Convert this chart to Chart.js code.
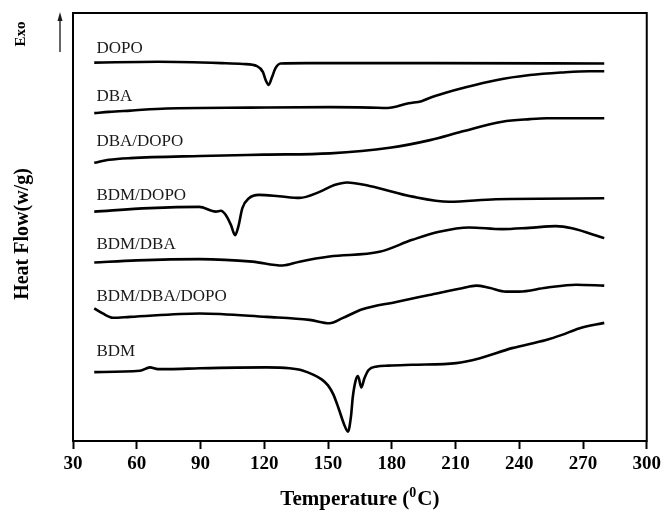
<!DOCTYPE html>
<html>
<head>
<meta charset="utf-8">
<title>DSC curves</title>
<script src="https://cdn.jsdelivr.net/npm/chart.js@4/dist/chart.umd.min.js"></script>
<style>
    body { margin: 0; background: #fff; }
    #wrap { width: 665px; height: 515px; }
</style>
</head>
<body>
<div id="wrap"><canvas id="dscChart" width="665" height="515"></canvas></div>
<script>
// temperatures (C) and heat flow (arbitrary, offset per sample) for each curve
const dopoT = [40, 70, 100, 110, 116.6, 119.4, 120.7, 122.1, 123.5, 125.3, 127.7, 140, 200, 280];
const dopoHF = [88.4, 88.6, 88.3, 88.1, 87.6, 86.2, 84.3, 83.2, 84.8, 87.1, 88.2, 88.3, 88.3, 88.2];

const dbaT = [40, 47, 57, 74, 113, 151, 170, 178, 188, 194, 197.5, 205, 213, 229, 245, 260, 273, 280];
const dbaHF = [76.6, 76.9, 77.2, 77.7, 77.9, 78.0, 77.9, 77.8, 78.9, 79.4, 80.1, 81.3, 82.4, 84.3, 85.5, 86.1, 86.4, 86.4];

const dbaDopoT = [40, 47, 57, 90, 120, 151, 179, 198, 213, 232, 245, 253, 280];
const dbaDopoHF = [65.0, 65.7, 66.1, 66.6, 66.9, 67.2, 68.5, 70.3, 72.3, 74.6, 75.2, 75.4, 75.4];

const bdmDopoT = [40, 66, 89.4, 97.2, 99.6, 101.9, 104.3, 106.3, 107.8, 109.7, 112.8, 117.5, 126.9, 136.6, 146, 153, 159, 169.5, 189.7, 207, 229, 280];
const bdmDopoHF = [53.6, 54.4, 54.7, 53.6, 53.8, 52.8, 50.5, 48.1, 50.1, 54.4, 56.7, 57.5, 57.2, 56.8, 58.2, 59.8, 60.4, 59.6, 57.1, 55.9, 56.5, 56.7];

const bdmDbaT = [40, 60, 89.6, 114.5, 128.6, 136.6, 150.7, 174.2, 189.7, 202.3, 216.4, 231.9, 244.6, 257.3, 264.8, 280];
const bdmDbaHF = [41.7, 42.2, 42.5, 41.9, 41.0, 41.9, 43.1, 44.2, 47.0, 48.9, 49.9, 49.5, 49.8, 50.2, 49.7, 47.4];

const bdmDbaDopoT = [40, 44, 48.8, 56.8, 89.6, 121, 141.3, 150.7, 156.8, 166.2, 182.1, 197.6, 213.1, 219.7, 225.8, 233.8, 239.9, 252.6, 266.7, 280];
const bdmDbaDopoHF = [31.0, 29.8, 28.8, 29.0, 29.8, 29.0, 28.3, 27.5, 28.7, 30.8, 32.5, 34.1, 35.7, 36.3, 35.8, 34.9, 34.9, 35.8, 36.5, 36.3];

const bdmT = [40, 61.5, 66.2, 70, 75.5, 89.6, 121, 131.9, 138, 143, 147, 150, 152.5, 155, 157.5, 159.4, 160.8, 161.7, 163.1, 164.1, 165.7, 167.1, 169.1, 173, 178.5, 189.7, 210.3, 221.1, 236.6, 252.6, 260.1, 268.1, 280];
const bdmHF = [16.1, 16.4, 17.2, 16.8, 16.8, 17.0, 17.2, 17.0, 16.5, 15.5, 14.4, 13.0, 10.9, 7.6, 4.0, 2.2, 5.7, 10.4, 14.3, 15.2, 12.5, 14.6, 16.6, 17.4, 17.6, 17.8, 18.2, 19.3, 21.7, 23.6, 24.8, 26.3, 27.6];

const sampleNames = ['DOPO', 'DBA', 'DBA/DOPO', 'BDM/DOPO', 'BDM/DBA', 'BDM/DBA/DOPO', 'BDM'];
const xTicks = [30, 60, 90, 120, 150, 180, 210, 240, 270, 300];

function toPoints(temps, flows) {
    return temps.map((t, i) => ({ x: t, y: flows[i] }));
}

const curves = [
    [dopoT, dopoHF],
    [dbaT, dbaHF],
    [dbaDopoT, dbaDopoHF],
    [bdmDopoT, bdmDopoHF],
    [bdmDbaT, bdmDbaHF],
    [bdmDbaDopoT, bdmDbaDopoHF],
    [bdmT, bdmHF]
];

// label baselines, in heat-flow units
const labelLevels = [90.7, 79.5, 68.9, 56.4, 44.8, 32.8, 19.9];

const serif = '"Liberation Serif", "Times New Roman", serif';

const decorations = {
    id: 'decorations',
    afterDraw(chart) {
        const { ctx, chartArea: a, scales } = chart;
        ctx.save();

        // box around the plot
        ctx.strokeStyle = '#000';
        ctx.lineWidth = 2;
        ctx.strokeRect(a.left, a.top, a.right - a.left, a.bottom - a.top);

        // sample names above each curve
        ctx.fillStyle = '#1a1a1a';
        ctx.font = '17px ' + serif;
        ctx.textAlign = 'left';
        ctx.textBaseline = 'alphabetic';
        sampleNames.forEach((name, i) => {
            ctx.fillText(name, scales.x.getPixelForValue(41), scales.y.getPixelForValue(labelLevels[i]));
        });

        // Exo arrow
        ctx.lineWidth = 1.2;
        ctx.beginPath();
        ctx.moveTo(60, 52);
        ctx.lineTo(60, 16);
        ctx.stroke();
        ctx.beginPath();
        ctx.moveTo(60, 12);
        ctx.lineTo(57.5, 21);
        ctx.lineTo(62.5, 21);
        ctx.closePath();
        ctx.fill();

        ctx.fillStyle = '#000';
        ctx.textAlign = 'center';
        ctx.textBaseline = 'middle';
        ctx.save();
        ctx.translate(21, 34);
        ctx.rotate(-Math.PI / 2);
        ctx.font = 'bold 15px ' + serif;
        ctx.fillText('Exo', 0, 0);
        ctx.restore();

        // y axis title
        ctx.save();
        ctx.translate(23, 234);
        ctx.rotate(-Math.PI / 2);
        ctx.font = 'bold 20px ' + serif;
        ctx.fillText('Heat Flow(w/g)', 0, 0);
        ctx.restore();

        // x axis title with superscript 0
        const cx = (a.left + a.right) / 2;
        const base = 505;
        const mainFont = 'bold 21px ' + serif;
        const supFont = 'bold 14px ' + serif;
        ctx.textBaseline = 'alphabetic';
        ctx.textAlign = 'left';
        ctx.font = mainFont;
        const w1 = ctx.measureText('Temperature (').width;
        const w3 = ctx.measureText('C)').width;
        ctx.font = supFont;
        const w2 = ctx.measureText('0').width + 1;
        let px = cx - (w1 + w2 + w3) / 2;
        ctx.font = mainFont;
        ctx.fillText('Temperature (', px, base);
        px += w1;
        ctx.font = supFont;
        ctx.fillText('0', px, base - 8);
        px += w2;
        ctx.font = mainFont;
        ctx.fillText('C)', px, base);

        ctx.restore();
    }
};

const ctx = document.getElementById('dscChart').getContext('2d');

new Chart(ctx, {
    type: 'line',
    data: {
        datasets: curves.map((c, i) => ({
            label: sampleNames[i],
            data: toPoints(c[0], c[1]),
            borderColor: '#000',
            borderWidth: 2.6,
            pointRadius: 0,
            fill: false,
            cubicInterpolationMode: 'monotone'
        }))
    },
    options: {
        responsive: false,
        animation: false,
        devicePixelRatio: 1,
        layout: { padding: { left: 73, top: 13, right: 16, bottom: 0 } },
        plugins: {
            legend: { display: false },
            tooltip: { enabled: false }
        },
        scales: {
            x: {
                type: 'linear',
                min: 30,
                max: 300,
                afterFit(scale) { scale.height = 74; },
                afterBuildTicks(scale) { scale.ticks = xTicks.map(v => ({ value: v })); },
                border: { display: false },
                grid: {
                    drawOnChartArea: false,
                    drawTicks: true,
                    tickLength: 8,
                    tickWidth: 2,
                    tickColor: '#000'
                },
                ticks: {
                    color: '#000',
                    padding: 4,
                    maxRotation: 0,
                    font: { family: serif, size: 19, weight: 'bold' }
                }
            },
            y: {
                display: false,
                min: 0,
                max: 100
            }
        }
    },
    plugins: [decorations]
});
</script>
</body>
</html>
